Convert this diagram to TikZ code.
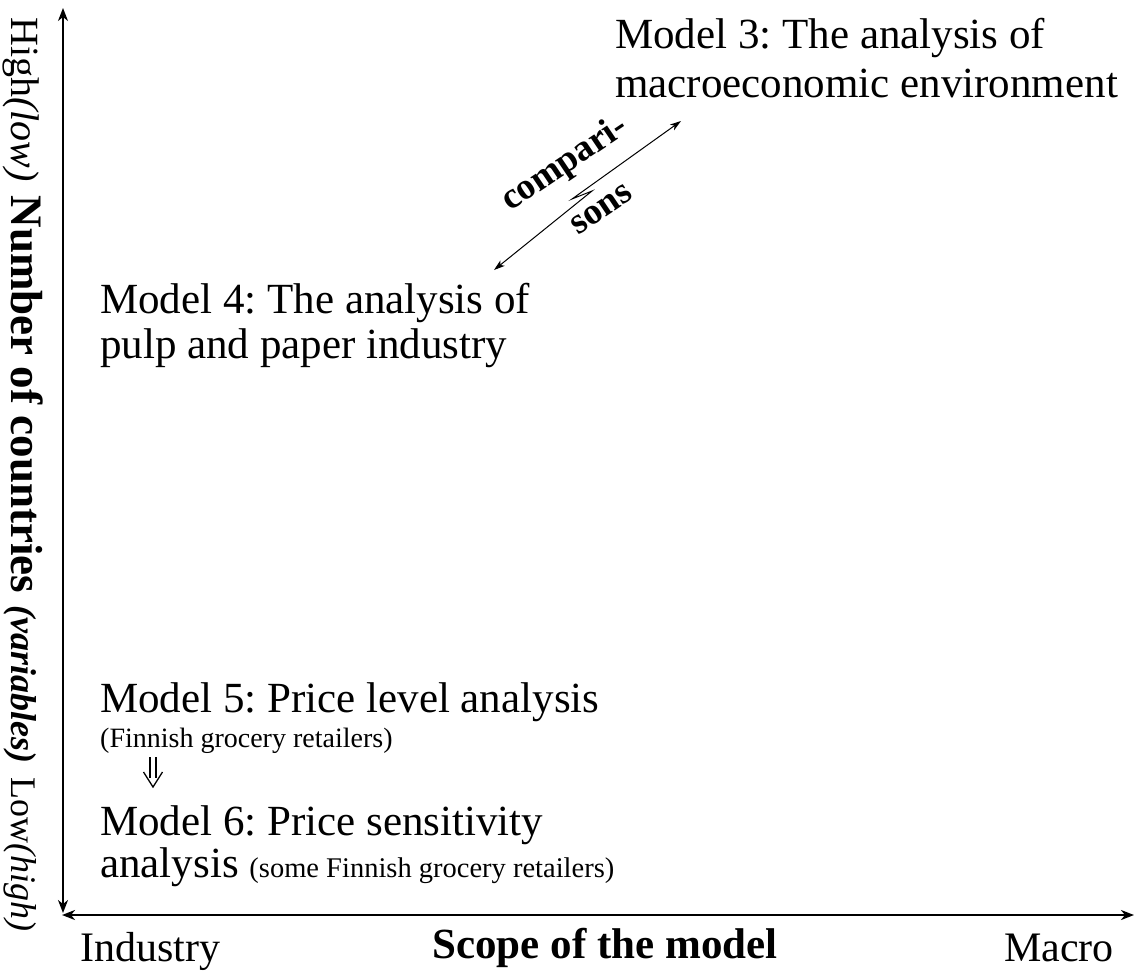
\documentclass[tikz,border=0pt]{standalone}
\usepackage{fontspec}
\setmainfont{Liberation Serif}
\usetikzlibrary{arrows.meta}
\frenchspacing
\tikzset{
  axishead/.tip={Stealth[length=13pt,width=10pt,inset=4pt]},
  linkhead/.tip={Stealth[length=11pt,width=7pt,inset=3pt]}
}
\begin{document}
\begin{tikzpicture}[x=1pt,y=-1pt,
  modeltext/.style={anchor=base west, inner sep=0pt, font=\fontsize{43}{48}\selectfont},
  subtext/.style={anchor=base west, inner sep=0pt, font=\fontsize{28}{32}\selectfont},
  axislabel/.style={inner sep=0pt, font=\fontsize{42}{48}\selectfont},
  axisline/.style={axishead-axishead},
  linkline/.style={line width=1pt, linkhead-linkhead},
  slanted/.style={anchor=base west, inner sep=0pt, rotate=34, font=\fontsize{37}{40}\selectfont\bfseries}
]
\useasboundingbox (0,0) rectangle (1142,970);

% axes
\coordinate (ytop) at (63,8);
\coordinate (ybot) at (63,913);
\coordinate (xleft) at (62,915);
\coordinate (xright) at (1134,915);
\draw[axisline, line width=1.6pt] (ybot) -- (ytop);
\draw[axisline, line width=2.6pt] (xleft) -- (xright);

% vertical axis caption
\node[rotate=-90, anchor=base west, inner sep=0pt, font=\fontsize{40}{44}\selectfont] (ylab) at (12,17)
  {High\textit{(low)}\hspace{0.35em}{\fontsize{45}{48}\selectfont\bfseries Number of countries}\hspace{0.3em}{\fontsize{36}{40}\selectfont\bfseries\itshape (variables)}\hspace{0.35em}{\fontsize{36}{40}\selectfont Low\textit{(high)}}};

% horizontal axis captions
\node[axislabel, anchor=base west] (xlow) at (80,961) {Industry};
\node[axislabel, anchor=base, font=\fontsize{43}{48}\selectfont\bfseries] (xtitle) at (605,958) {Scope of the model};
\node[axislabel, anchor=base east] (xhigh) at (1114,961) {Macro};

% model descriptions
\node[modeltext] (m3a) at (615,48) {Model 3: The analysis of};
\node[modeltext] (m3b) at (615,97) {macroeconomic environment};

\node[modeltext] (m4a) at (100,313) {Model 4: The analysis of};
\node[modeltext] (m4b) at (100,358) {pulp and paper industry};

\node[modeltext] (m5a) at (100,712) {Model 5: Price level analysis};
\node[subtext] (m5b) at (100,747) {(Finnish grocery retailers)};

\node[modeltext] (m6a) at (100,835) {Model 6: Price sensitivity};
\node[modeltext] (m6b) at (100,877) {analysis {\fontsize{28.5}{32}\selectfont (some Finnish grocery retailers)}};

% model 5 leads to model 6: a hollow double arrow
\coordinate (d5) at (153,757);
\coordinate (d6) at (153,787);
\begin{scope}[line width=1.3pt, line cap=butt]
  \draw ([xshift=-3pt]d5) -- ([xshift=-3pt, yshift=9pt]d6);
  \draw ([xshift=3pt]d5) -- ([xshift=3pt, yshift=9pt]d6);
  \draw[line join=miter] ([xshift=-9.5pt, yshift=15pt]d6) -- (d6) -- ([xshift=9.5pt, yshift=15pt]d6);
\end{scope}

% comparisons link between models 3 and 4, broken by a zigzag
\coordinate (c3) at (681,121);
\coordinate (c4) at (494,270);
\coordinate (zigA) at (592,191);
\coordinate (zigB) at (572,199);
\draw[linkline, line join=miter] (c4) -- (zigA) -- (zigB) -- (c3);
\node[slanted] (cmpA) at (510,212) {compari-};
\node[slanted] (cmpB) at (578,236) {sons};
\end{tikzpicture}
\end{document}
